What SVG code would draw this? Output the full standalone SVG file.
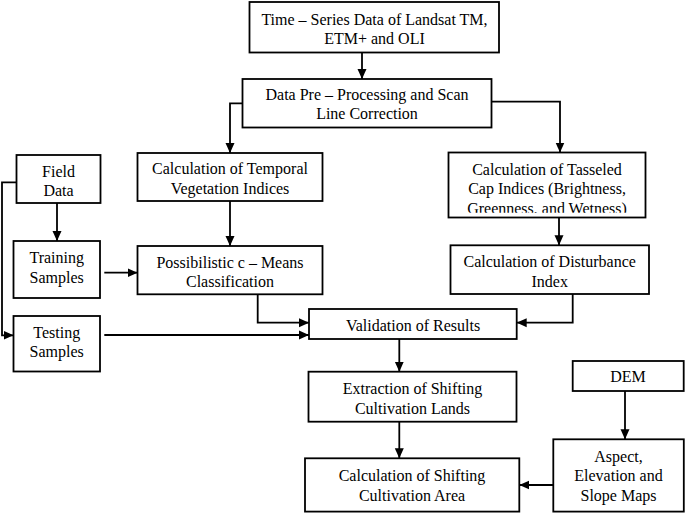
<svg xmlns="http://www.w3.org/2000/svg" width="685" height="513" viewBox="0 0 685 513">
<style>
.box{fill:#fff;stroke:#000;stroke-width:1.8}
.t{font-family:"Liberation Serif","Times New Roman",serif;font-size:16px;fill:#000;text-anchor:middle}
.c{fill:none;stroke:#000;stroke-width:1.8;marker-end:url(#ah)}
</style>
<defs>
<marker id="ah" markerUnits="userSpaceOnUse" markerWidth="10" markerHeight="10" refX="10" refY="5" orient="auto">
<path d="M0,0.5 L10,5 L0,9.5 z" fill="#000"/>
</marker>
<clipPath id="tclip"><rect x="449" y="153" width="196" height="59.8"/></clipPath>
</defs>
<rect width="685" height="513" fill="#fff"/>
<g id="connectors">
<path class="c" d="M362,52.5 V79"/>
<path class="c" d="M242.5,103.3 H230 V153"/>
<path class="c" d="M491.5,101.7 H560 V152.5"/>
<path class="c" d="M230,201 V246"/>
<path class="c" d="M559,217.5 V245.3"/>
<path class="c" d="M57,203 V241"/>
<path class="c" d="M16.5,182.3 H2 V335.3 H13.5"/>
<path class="c" d="M104.3,272.7 H137.5"/>
<path class="c" d="M104.3,335 H309"/>
<path class="c" d="M257.7,294 V322.7 H309"/>
<path class="c" d="M572.7,294 V322.7 H516.7"/>
<path class="c" d="M399.3,339 V371.7"/>
<path class="c" d="M399.3,421.7 V458.3"/>
<path class="c" d="M625,391 V439.3"/>
<path class="c" d="M553.3,485 H519.3"/>
</g>
<g id="time">
<rect class="box" x="249.5" y="2" width="249.5" height="50.5"/>
<text class="t" x="374.5" y="24.5">Time – Series Data of Landsat TM,</text>
<text class="t" x="374.5" y="43.5">ETM+ and OLI</text>
</g>
<g id="prep">
<rect class="box" x="242.5" y="79" width="249" height="48.5"/>
<text class="t" x="367" y="100">Data Pre – Processing and Scan</text>
<text class="t" x="367" y="119">Line Correction</text>
</g>
<g id="temporal">
<rect class="box" x="137.5" y="153" width="185" height="48"/>
<text class="t" x="230" y="174">Calculation of Temporal</text>
<text class="t" x="230" y="193.5">Vegetation Indices</text>
</g>
<g id="tasseled">
<rect class="box" x="448.5" y="152.5" width="197" height="65"/>
<g clip-path="url(#tclip)">
<text class="t" x="547" y="175">Calculation of Tasseled</text>
<text class="t" x="547" y="194.3">Cap Indices (Brightness,</text>
<text class="t" x="547" y="213.6">Greenness, and Wetness)</text>
</g>
</g>
<g id="field">
<rect class="box" x="16.5" y="155" width="84" height="48"/>
<text class="t" x="58.5" y="176.5">Field</text>
<text class="t" x="58.5" y="196">Data</text>
</g>
<g id="training">
<rect class="box" x="13.5" y="241" width="86.5" height="57"/>
<text class="t" x="56.7" y="262.5">Training</text>
<text class="t" x="56.7" y="282.5">Samples</text>
</g>
<g id="testing">
<rect class="box" x="13.5" y="316" width="86.5" height="55.5"/>
<text class="t" x="56.7" y="337.8">Testing</text>
<text class="t" x="56.7" y="357">Samples</text>
</g>
<g id="possibilistic">
<rect class="box" x="137.5" y="246" width="185" height="48.3"/>
<text class="t" x="230" y="267.8">Possibilistic c – Means</text>
<text class="t" x="230" y="287">Classification</text>
</g>
<g id="disturbance">
<rect class="box" x="450.5" y="245.3" width="198.5" height="48.7"/>
<text class="t" x="549.7" y="267">Calculation of Disturbance</text>
<text class="t" x="549.7" y="286.5">Index</text>
</g>
<g id="validation">
<rect class="box" x="309" y="309" width="207.7" height="30"/>
<text class="t" x="413" y="330.5">Validation of Results</text>
</g>
<g id="extraction">
<rect class="box" x="308.5" y="371.7" width="208" height="50"/>
<text class="t" x="412.5" y="393.8">Extraction of Shifting</text>
<text class="t" x="412.5" y="413.8">Cultivation Lands</text>
</g>
<g id="calcarea">
<rect class="box" x="305" y="458.3" width="214.3" height="53.3"/>
<text class="t" x="412" y="481.2">Calculation of Shifting</text>
<text class="t" x="412" y="500.5">Cultivation Area</text>
</g>
<g id="dem">
<rect class="box" x="572.7" y="361" width="111" height="30"/>
<text class="t" x="628" y="382.2">DEM</text>
</g>
<g id="aspect">
<rect class="box" x="553.3" y="439.3" width="130.5" height="72.3"/>
<text class="t" x="618.5" y="462.2">Aspect,</text>
<text class="t" x="618.5" y="481.2">Elevation and</text>
<text class="t" x="618.5" y="500.5">Slope Maps</text>
</g>
</svg>
